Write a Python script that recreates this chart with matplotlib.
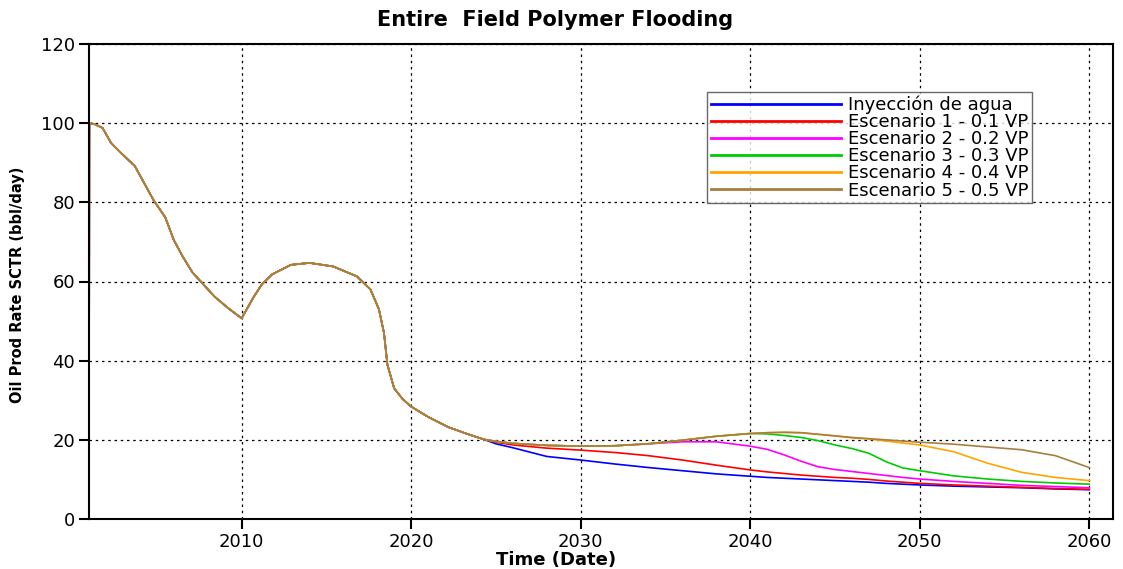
import matplotlib
matplotlib.use("Agg")
import matplotlib.pyplot as plt
import numpy as np

# Shared production history (all cases identical until ~2024)
hist_years = [2001.0, 2001.02, 2001.3, 2001.6, 2001.8, 2002.3, 2002.9, 2003.7, 2004.3,
              2004.8, 2005.5, 2006.0, 2006.5, 2007.1, 2008.4, 2009.2, 2010.0, 2010.7,
              2011.2, 2011.8, 2012.9, 2014.0, 2015.4, 2016.8, 2017.6, 2018.1, 2018.4,
              2018.6, 2019.0, 2019.5, 2020.0, 2021.0, 2022.2, 2023.3, 2024.3]
hist_rate = [0.0, 100.0, 99.8, 99.2, 98.8, 95.0, 92.4, 89.2, 84.5,
             80.6, 76.2, 70.5, 66.5, 62.3, 56.2, 53.3, 50.7, 56.0,
             59.3, 61.8, 64.2, 64.7, 63.8, 61.3, 58.0, 53.0, 47.0,
             39.0, 33.0, 30.3, 28.4, 25.8, 23.2, 21.5, 20.1]

# Forecast period
fc_years = [2025, 2026, 2028, 2030, 2032, 2034, 2036, 2038, 2040, 2041, 2042, 2043,
            2044, 2045, 2046, 2047, 2048, 2049, 2050, 2052, 2054, 2056, 2058, 2060]

water = [19.0, 18.0, 15.8, 14.9, 13.9, 13.0, 12.2, 11.4, 10.8, 10.5, 10.3, 10.1,
         9.9, 9.7, 9.5, 9.3, 9.0, 8.8, 8.6, 8.3, 8.1, 7.9, 7.6, 7.4]
esc1 = [19.4, 18.7, 17.9, 17.4, 16.8, 16.0, 14.9, 13.6, 12.4, 11.9, 11.5, 11.1,
        10.8, 10.5, 10.3, 10.0, 9.6, 9.3, 9.0, 8.6, 8.3, 8.0, 7.7, 7.5]
esc2 = [19.6, 19.1, 18.6, 18.4, 18.5, 19.0, 19.5, 19.5, 18.4, 17.6, 16.2, 14.6,
        13.2, 12.5, 12.0, 11.5, 11.0, 10.5, 10.1, 9.5, 9.0, 8.5, 8.2, 7.9]
esc3 = [19.6, 19.1, 18.6, 18.4, 18.5, 19.0, 19.9, 20.9, 21.6, 21.5, 21.1, 20.6,
        19.8, 18.7, 17.8, 16.6, 14.5, 12.9, 12.2, 10.9, 10.1, 9.5, 9.1, 8.8]
esc4 = [19.6, 19.1, 18.6, 18.4, 18.5, 19.0, 19.9, 20.9, 21.6, 21.8, 21.9, 21.8,
        21.4, 21.0, 20.5, 20.2, 19.7, 19.2, 18.7, 17.0, 14.1, 11.8, 10.5, 9.7]
esc5 = [19.6, 19.1, 18.6, 18.4, 18.5, 19.0, 19.9, 20.9, 21.6, 21.8, 21.9, 21.8,
        21.4, 21.0, 20.6, 20.3, 20.0, 19.7, 19.4, 18.9, 18.2, 17.5, 16.0, 13.0]

labels = ["Inyección de agua", "Escenario 1 - 0.1 VP", "Escenario 2 - 0.2 VP",
          "Escenario 3 - 0.3 VP", "Escenario 4 - 0.4 VP", "Escenario 5 - 0.5 VP"]
colors = ["#0000FF", "#FF0000", "#FF00FF", "#00CC00", "#FFA500", "#A87D40"]
series = [water, esc1, esc2, esc3, esc4, esc5]

x_ticks = [2010, 2020, 2030, 2040, 2050, 2060]
y_ticks = [0, 20, 40, 60, 80, 100, 120]

plt.rcParams['font.family'] = ['DejaVu Sans']

fig = plt.figure(figsize=(11.23, 5.69), dpi=100)
ax = fig.add_axes([89/1123, 1-519/569, (1113-89)/1123, (519-44)/569])

for vals, col, lab in zip(series, colors, labels):
    x = np.array(hist_years + fc_years, dtype=float)
    y = np.array(hist_rate + vals, dtype=float)
    ax.plot(x, y, color=col, lw=1.2, label=lab)

ax.set_xlim(2001.0, 2061.4)
ax.set_ylim(0, 120)
ax.set_xticks(x_ticks)
ax.set_yticks(y_ticks)
ax.tick_params(axis='both', direction='out', length=7, width=1.5, labelsize=13,
               colors='black', pad=3)
ax.grid(True, color='black', linestyle=(0, (2, 3)), linewidth=0.9)
for s in ax.spines.values():
    s.set_linewidth(1.5)
    s.set_color('black')

fig.text(0.494, 1-20/569, "Entire  Field Polymer Flooding", ha='center', va='center',
         fontsize=15, fontweight='bold')
fig.text(0.495, 1-560/569, "Time (Date)", ha='center', va='center',
         fontsize=13, fontweight='bold')
fig.text(18/1123, 1-285/569, "Oil Prod Rate SCTR (bbl/day)", rotation=90,
         ha='center', va='center', fontsize=10.5, fontweight='bold')

leg = ax.legend(loc='upper left', bbox_to_anchor=(707/1123, 1-92/569),
                bbox_transform=fig.transFigure, fontsize=13, frameon=True,
                fancybox=False, borderaxespad=0, borderpad=0.2,
                handlelength=7.2, handletextpad=0.4, labelspacing=-0.05)
leg.get_frame().set_edgecolor('#444444')
leg.get_frame().set_linewidth(1.0)
for h in leg.get_lines():
    h.set_linewidth(2.0)

fig.savefig("out.png", dpi=100)
